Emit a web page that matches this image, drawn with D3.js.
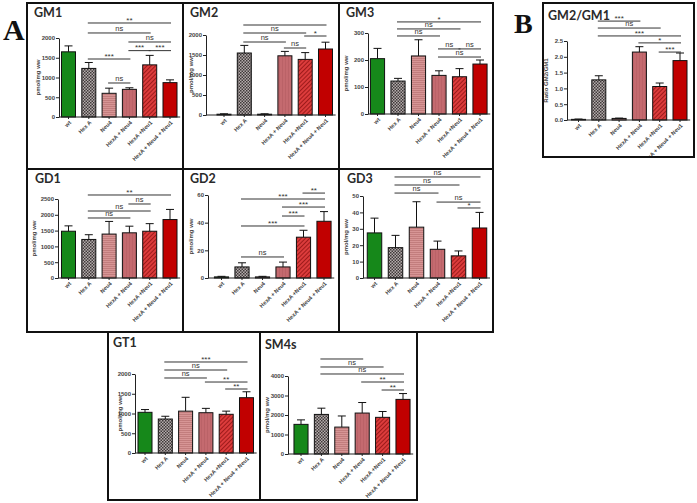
<!DOCTYPE html>
<html><head><meta charset="utf-8">
<script src="https://cdn.jsdelivr.net/npm/d3@7"></script>
<style>body{margin:0;background:#fff}</style></head>
<body>
<svg id="c" width="697" height="503"></svg>
<script>
// ---------- data ----------
const groups = ["wt","Hex A","Neu4","HexA + Neu4","HexA +Neu1","HexA + Neu4 + Neu1"];

const gm1 = [1650,1230,600,700,1320,870];
const gm1Err = [150,150,130,40,240,70];
const gm1Sig = [[1,5,2380,"**"],[1,4,2127,"ns"],[3,5,1899,"ns"],[3,4,1680,"***"],[4,5,1680,"***"],[1,3,1468,"***"],[2,3,861,"ns"]];

const gm2 = [20,1550,20,1480,1390,1650];
const gm2Err = [10,190,10,110,170,170];
const gm2Sig = [[1,5,2250,""],[1,4,2050,"ns"],[4,5,1975,"*"],[1,3,1825,"ns"],[3,4,1675,"ns"]];

const gm3 = [205,122,215,143,138,185];
const gm3Err = [38,10,60,17,30,15];
const gm3Sig = [[1,5,341,"*"],[1,4,315,"ns"],[1,3,289,"ns"],[3,4,241,"ns"],[4,5,241,"ns"],[3,5,211,"ns"]];

const gd1 = [1480,1220,1390,1430,1480,1850];
const gd1Err = [170,150,400,210,240,320];
const gd1Sig = [[1,5,2627,"**"],[3,4,2342,"ns"],[1,4,2120,"ns"],[1,3,1899,"ns"]];

const gd2 = [0.8,8,0.8,8,29.5,41];
const gd2Err = [0.4,3,0.4,3.5,5,7];
const gd2Sig = [[4,5,61.4,"**"],[1,5,57.1,"***"],[3,5,51.3,"***"],[3,4,44.8,"***"],[1,4,37.6,"***"],[1,3,15.2,"ns"]];

const gd3 = [27.5,18.5,31,17.5,13.5,30.5];
const gd3Err = [9,7.5,15.5,5,3,9.5];
const gd3Sig = [[1,5,61.6,"ns"],[1,4,56.7,"ns"],[1,3,51.8,"ns"],[3,5,46.3,"ns"],[4,5,42.7,"*"]];

const gt1 = [1030,860,1060,1020,980,1400];
const gt1Err = [70,70,350,110,80,150];
const gt1Sig = [[1,5,2304,"***"],[1,4,2101,"ns"],[1,3,1899,"ns"],[3,5,1797,"**"],[4,5,1620,"**"]];

const sm4s = [1520,2030,1380,2100,1880,2800];
const sm4sErr = [230,320,570,540,300,300];
const sm4sSig = [[1,3,4872,""],[1,4,4462,"ns"],[1,5,4103,"ns"],[3,5,3692,"**"],[4,5,3282,"**"]];

const ratio = [0.02,1.27,0.05,2.15,1.06,1.88];
const ratioErr = [0.01,0.13,0.01,0.17,0.11,0.24];
const ratioSig = [[1,3,3.13,"***"],[1,4,2.91,"ns"],[1,5,2.66,"***"],[3,5,2.44,"*"],[4,5,2.15,"***"]];

const ticksGM = [0,500,1000,1500,2000];
const ticksGM3 = [0,100,200,300];
const ticksGD1 = [0,500,1000,1500,2000,2500];
const ticksGD2 = [0,20,40,60];
const ticksGD3 = [0,10,20,30,40,50];
const ticksSM = [0,1000,2000,3000,4000];
const ticksR = [0,0.5,1.0,1.5,2.0,2.5];

// ---------- drawing ----------
const svg = d3.select("#c");
const defs = svg.append("defs");

function pat(id,w,h,base,draw,rot){
  const p = defs.append("pattern").attr("id",id).attr("patternUnits","userSpaceOnUse")
    .attr("width",w).attr("height",h);
  if(rot) p.attr("patternTransform","rotate("+rot+")");
  p.append("rect").attr("width",w).attr("height",h).attr("fill",base);
  draw(p);
}
pat("pChk",3,3,"#b4acac",p=>{
  p.append("rect").attr("x",0).attr("y",0).attr("width",1.5).attr("height",1.5).attr("fill","#403a3a");
  p.append("rect").attr("x",1.5).attr("y",1.5).attr("width",1.5).attr("height",1.5).attr("fill","#403a3a");
});
pat("pHs",3,2,"#d79595",p=>{
  p.append("rect").attr("x",0).attr("y",0).attr("width",3).attr("height",0.7).attr("fill","#b97373");
});
pat("pHn4",3,3,"#c46a6f",p=>{
  p.append("rect").attr("x",0).attr("y",0).attr("width",0.6).attr("height",3).attr("fill","#b35c61");
});
pat("pDg",3,3,"#dc3c3c",p=>{
  p.append("rect").attr("x",0).attr("y",0).attr("width",1).attr("height",3).attr("fill","#9e1b1b");
},45);
const fills = ["#16881a","url(#pChk)","url(#pHs)","url(#pHn4)","url(#pDg)","#c10000"];

const TXT = "#333";
const FONT = "'Liberation Sans', Arial, sans-serif";

function panel(cfg){
  defs.append("clipPath").attr("id","cl"+cfg.id).append("rect")
    .attr("x",cfg.box[0]).attr("y",cfg.box[1]).attr("width",cfg.box[2]-cfg.box[0]).attr("height",cfg.box[3]-cfg.box[1]);
  const g = svg.append("g").attr("clip-path","url(#cl"+cfg.id+")");
  const y = d3.scaleLinear().domain([0,cfg.max]).range([cfg.y0,cfg.yTop]);
  const x = d3.scaleBand().domain(groups)
    .range([cfg.x0-cfg.step/2, cfg.x0+5.5*cfg.step]).paddingInner(0.31).paddingOuter(0.155);
  const cx = i => x(groups[i]) + x.bandwidth()/2;

  // title
  g.append("text").attr("x",cfg.tx).attr("y",cfg.ty).text(cfg.title)
    .attr("font-family","Lato, 'Open Sans', sans-serif").attr("font-weight","bold")
    .attr("font-size",12.5).attr("fill","#2a2a2a");

  // bars
  g.selectAll("rect.bar").data(cfg.vals).join("rect").attr("class","bar")
    .attr("x",(d,i)=>x(groups[i])).attr("width",x.bandwidth())
    .attr("y",d=>y(d)).attr("height",d=>cfg.y0-y(d))
    .attr("fill",(d,i)=>fills[i]).attr("stroke","#111").attr("stroke-width",1);
  // error bars
  cfg.vals.forEach((v,i)=>{
    const top = y(v+cfg.err[i]);
    g.append("line").attr("x1",cx(i)).attr("x2",cx(i)).attr("y1",y(v)).attr("y2",top)
      .attr("stroke","#111").attr("stroke-width",1);
    g.append("line").attr("x1",cx(i)-4).attr("x2",cx(i)+4).attr("y1",top).attr("y2",top)
      .attr("stroke","#111").attr("stroke-width",1);
  });

  // y axis
  const ya = g.append("g").attr("transform","translate("+cfg.axisX+",0)")
    .call(d3.axisLeft(y).tickValues(cfg.ticks).tickSize(3).tickSizeOuter(0).tickPadding(1).tickFormat(cfg.fmt||d3.format("d")));
  ya.select(".domain").attr("stroke","#222");
  ya.selectAll(".tick line").attr("stroke","#222");
  ya.selectAll("text").attr("font-family",FONT).attr("font-size",6).attr("font-weight","bold").attr("fill","#444");
  // x axis
  const xEnd = cx(5)+cfg.step/2;
  g.append("line").attr("x1",cfg.axisX).attr("x2",xEnd).attr("y1",cfg.y0).attr("y2",cfg.y0)
    .attr("stroke","#222").attr("stroke-width",1);
  const xa = g.append("g").attr("transform","translate(0,"+cfg.y0+")")
    .call(d3.axisBottom(x).tickSize(2).tickSizeOuter(0).tickFormat(""));
  xa.select(".domain").remove();
  xa.selectAll(".tick line").attr("stroke","#222");
  groups.forEach((name,i)=>{
    g.append("text").text(name)
      .attr("transform","translate("+(cx(i)+3)+","+(cfg.y0+6)+") rotate(-45)")
      .attr("text-anchor","end").attr("font-family",FONT).attr("font-size",5.6)
      .attr("font-weight","bold").attr("fill","#444");
  });
  // y label
  g.append("text").text(cfg.ylab)
    .attr("transform","translate("+(cfg.axisX-cfg.labOff)+","+((cfg.y0+cfg.yTop)/2)+") rotate(-90)")
    .attr("text-anchor","middle").attr("font-family",FONT).attr("font-size",6)
    .attr("font-weight","bold").attr("fill","#444");

  // significance brackets
  cfg.sig.forEach(s=>{
    const x1 = cx(s[0])-1, x2 = cx(s[1])+1, yy = y(s[2]);
    g.append("line").attr("x1",x1).attr("x2",x2).attr("y1",yy).attr("y2",yy)
      .attr("stroke","#333").attr("stroke-width",1);
    if(s[3]) g.append("text").text(s[3]).attr("x",(x1+x2)/2).attr("y",yy-(s[3]==="ns"?1.6:0.3))
      .attr("text-anchor","middle").attr("font-family",FONT)
      .attr("font-size",s[3]==="ns"?7.5:8).attr("fill",TXT);
  });
}

const PM = "pmol/mg ww";
panel({id:"gm1",title:"GM1",tx:34,ty:17,box:[27,3,183,169],vals:gm1,err:gm1Err,sig:gm1Sig,
  axisX:59,x0:68.5,step:20.3,y0:117,yTop:38,max:2000,ticks:ticksGM,ylab:PM,labOff:19});
panel({id:"gm2",title:"GM2",tx:190,ty:17,box:[183,3,339,169],vals:gm2,err:gm2Err,sig:gm2Sig,
  axisX:206,x0:224,step:20.3,y0:115,yTop:35,max:2000,ticks:ticksGM,ylab:PM,labOff:13});
panel({id:"gm3",title:"GM3",tx:346,ty:17,box:[339,3,493,169],vals:gm3,err:gm3Err,sig:gm3Sig,
  axisX:368,x0:377.5,step:20.5,y0:114,yTop:33,max:300,ticks:ticksGM3,ylab:PM,labOff:20});
panel({id:"gd1",title:"GD1",tx:35,ty:183,box:[27,169,183,332],vals:gd1,err:gd1Err,sig:gd1Sig,
  axisX:58,x0:68.5,step:20.3,y0:278,yTop:199,max:2500,ticks:ticksGD1,ylab:PM,labOff:22});
panel({id:"gd2",title:"GD2",tx:190,ty:183,box:[183,169,339,332],vals:gd2,err:gd2Err,sig:gd2Sig,
  axisX:208,x0:221.5,step:20.5,y0:278,yTop:195,max:60,ticks:ticksGD2,ylab:PM,labOff:15});
panel({id:"gd3",title:"GD3",tx:347,ty:183,box:[339,169,493,332],vals:gd3,err:gd3Err,sig:gd3Sig,
  axisX:363,x0:374.5,step:21,y0:278,yTop:196,max:50,ticks:ticksGD3,ylab:PM,labOff:15});
panel({id:"gt1",title:"GT1",tx:113,ty:347,box:[108,332,260,500],vals:gt1,err:gt1Err,sig:gt1Sig,
  axisX:135,x0:145,step:20.3,y0:453,yTop:374,max:2000,ticks:ticksGM,ylab:PM,labOff:13});
panel({id:"sm4s",title:"SM4s",tx:265,ty:349,box:[260,332,417,500],vals:sm4s,err:sm4sErr,sig:sm4sSig,
  axisX:288,x0:301,step:20.4,y0:454,yTop:376,max:4000,ticks:ticksSM,ylab:PM,labOff:19});
panel({id:"rat",title:"GM2/GM1",tx:548,ty:20,box:[543,3,694,157],vals:ratio,err:ratioErr,sig:ratioSig,
  axisX:567,x0:578.5,step:20.3,y0:120,yTop:41,max:2.5,ticks:ticksR,fmt:d3.format(".1f"),ylab:"Ratio GM2/GM1",labOff:19});

// frames
const fr = svg.append("g").attr("stroke","#111").attr("stroke-width",2).attr("fill","none");
fr.append("rect").attr("x",27).attr("y",3).attr("width",466).attr("height",329);
fr.append("line").attr("x1",27).attr("x2",493).attr("y1",169).attr("y2",169);
fr.append("line").attr("x1",183).attr("x2",183).attr("y1",3).attr("y2",332);
fr.append("line").attr("x1",339).attr("x2",339).attr("y1",3).attr("y2",332);
fr.append("rect").attr("x",108).attr("y",332).attr("width",309).attr("height",168);
fr.append("line").attr("x1",260).attr("x2",260).attr("y1",332).attr("y2",500);
fr.append("rect").attr("x",543).attr("y",3).attr("width",151).attr("height",154);

svg.append("text").text("A").attr("x",3).attr("y",40).attr("font-family","'Liberation Serif', 'DejaVu Serif', serif")
  .attr("font-weight","bold").attr("font-size",30).attr("fill","#111");
svg.append("text").text("B").attr("x",514).attr("y",33).attr("font-family","'Liberation Serif', 'DejaVu Serif', serif")
  .attr("font-weight","bold").attr("font-size",28).attr("fill","#111");
</script>
</body></html>
